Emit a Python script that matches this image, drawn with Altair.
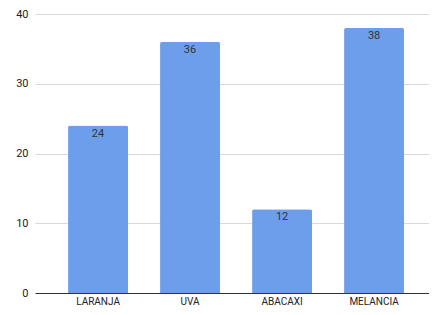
import altair as alt
import pandas as pd

categories = ["LARANJA", "UVA", "ABACAXI", "MELANCIA"]
values = [24, 36, 12, 38]

df = pd.DataFrame({"fruta": categories, "valor": values})

base = alt.Chart(df).encode(
    x=alt.X("fruta:N", sort=categories,
            scale=alt.Scale(paddingInner=0.348, paddingOuter=0.315, align=0.57),
            axis=alt.Axis(title=None, labelAngle=0, ticks=False, domainColor="#333333",
                          labelFont="Roboto", labelFontSize=10, labelColor="#222222",
                          labelPadding=3, grid=False)),
    y=alt.Y("valor:Q", scale=alt.Scale(domain=[0, 40]),
            axis=alt.Axis(title=None, values=[0, 10, 20, 30, 40], ticks=False, domain=False,
                          labelFont="Roboto", labelFontSize=11, labelColor="#222222",
                          labelPadding=7, gridColor="#d9d9d9")),
)

bars = base.mark_bar(color="#6d9eeb", cornerRadiusTopLeft=2, cornerRadiusTopRight=2)
labels = base.mark_text(baseline="top", dy=2, font="Roboto", fontSize=11, color="#333333").encode(
    text="valor:Q")

chart = (bars + labels).properties(
    width=394, height=279,
    autosize=alt.AutoSizeParams(type="none"),
    padding={"left": 27, "top": 6, "right": 0, "bottom": 14},
).configure_view(stroke=None)

chart.save("out.html", embed_options={"renderer": "svg", "actions": False})
